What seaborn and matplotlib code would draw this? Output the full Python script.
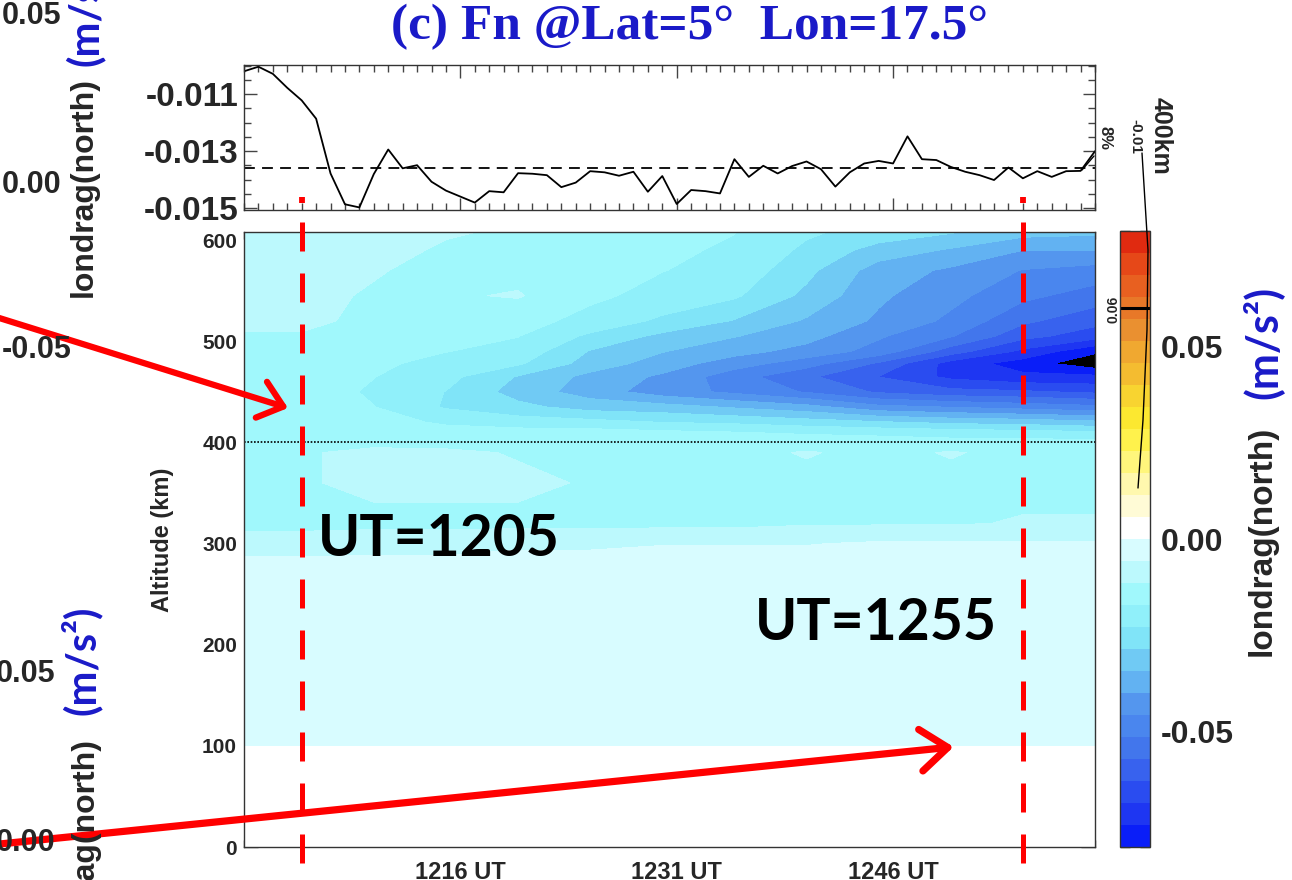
import numpy as np
import matplotlib
matplotlib.use("Agg")
import matplotlib.pyplot as plt
import matplotlib.transforms as mtransforms
from matplotlib.colors import ListedColormap, BoundaryNorm
from matplotlib.cm import ScalarMappable
from matplotlib.lines import Line2D
from matplotlib.ticker import MultipleLocator, FixedLocator, FuncFormatter
import seaborn as sns

# ---------------- 400 km time series (minutes after 1200 UT) ----------------
minutes = np.arange(1, 61)
londrag_400km = [
    -0.01020, -0.01004, -0.01029, -0.01078, -0.01122, -0.01186, -0.01378, -0.01486, -0.01497, -0.01380,
    -0.01294, -0.01360, -0.01349, -0.01407, -0.01438, -0.01459, -0.01480, -0.01440, -0.01444, -0.01377,
    -0.01379, -0.01384, -0.01426, -0.01410, -0.01370, -0.01374, -0.01386, -0.01372, -0.01442, -0.01387,
    -0.01485, -0.01436, -0.01440, -0.01448, -0.01328, -0.01390, -0.01351, -0.01378, -0.01352, -0.01336,
    -0.01363, -0.01424, -0.01374, -0.01343, -0.01334, -0.01343, -0.01248, -0.01328, -0.01331, -0.01355,
    -0.01372, -0.01384, -0.01401, -0.01357, -0.01395, -0.01370, -0.01390, -0.01370, -0.01369, -0.01300,
]
londrag_400km_mean = -0.0136

# ---------------- altitude-time field of londrag(north) ----------------
alt_km = [0, 99, 101, 280, 300, 320, 360, 390, 400, 410, 420, 435, 450,
          465, 478, 490, 505, 520, 545, 570, 590, 608]
profile_minutes = [1, 5, 10, 15, 20, 25, 30, 35, 40, 45, 50, 55, 60]
# vertical profiles, units of 1e-3 m/s^2, listed from the ground upward
ut1201 = [2, 2, -3, -4, -9, -13, -13, -12, -13, -13, -13, -13, -13, -13, -13, -13, -12, -10, -9, -9, -9, -9]
ut1205 = [2, 2, -3, -4, -9, -13, -12, -12, -13, -13, -13, -14, -14, -14, -14, -13, -12, -10, -10, -9, -9, -9]
ut1210 = [2, 2, -3, -4, -8, -13, -10, -10, -13, -14, -15, -17, -18, -17, -16, -15, -14, -13, -12, -11, -10, -10]
ut1215 = [2, 2, -3, -4, -8, -13, -10, -10, -14, -15, -18, -23.5, -23, -21, -19, -17, -16, -15, -12, -13, -12, -11]
ut1220 = [2, 2, -3, -3, -7, -13, -10, -12, -14, -15, -20, -27, -31, -29, -22, -19, -17, -15, -11, -13, -13, -12]
ut1225 = [2, 2, -3, -3, -7, -13, -12, -13, -14, -15, -21, -31, -37, -36, -31, -29, -24, -19, -16, -15, -14, -13]
ut1230 = [2, 2, -3, -3, -6, -13, -13, -13, -14, -16, -23, -32, -43, -41, -37, -34, -30, -24, -19, -17, -16, -15]
ut1235 = [2, 2, -3, -3, -6, -13, -13, -13, -14, -17, -24, -35, -47, -49, -43, -38, -34, -29, -22, -19, -18, -17]
ut1240 = [2, 2, -3, -3, -6, -12, -13, -11, -14, -18, -26, -38, -52, -56, -49, -42, -38, -35, -30, -27, -24, -22]
ut1245 = [2, 2, -3, -3, -5, -12, -13, -13, -14, -19, -28, -44, -58, -63, -58, -48, -45, -41, -39, -37, -31, -25]
ut1250 = [2, 2, -3, -3, -5, -12, -13, -11, -15, -20, -30, -46, -61, -70, -71, -60, -51, -47, -44, -41, -35, -28]
ut1255 = [2, 2, -3, -3, -5, -11, -13, -13, -15, -21, -31, -48, -62, -73, -77, -70, -61, -56, -50, -46, -40, -32]
ut1260 = [2, 2, -3, -3, -5, -11, -13, -13, -15, -22, -33, -50, -64, -73, -84, -79, -66, -61, -54, -48, -40, -33]
profiles = [ut1201, ut1205, ut1210, ut1215, ut1220, ut1225, ut1230,
            ut1235, ut1240, ut1245, ut1250, ut1255, ut1260]

x_tick_minutes = [16, 31, 46]
alt_ticks = [0, 100, 200, 300, 400, 500, 600]
cbar_labels = [-0.05, 0.0, 0.05]
top_labels = [-0.015, -0.013, -0.011]

# colour table: 28 bands from -0.08 to 0.08
neg_colors = ['#0a1ef8', '#1e36f2', '#2a4cf0', '#3862ee', '#4276ec', '#4a86ee', '#5496ee',
              '#62b2f2', '#70caf4', '#80e4f8', '#90f0fa', '#a0f8fc', '#bcf9fd', '#d8fcff']
pos_colors = ['#ffffff', '#fffbd6', '#fff8ae', '#fff67c', '#fff24c', '#fce830', '#f8d430',
              '#f4bc30', '#f0a830', '#ea9030', '#e87828', '#e86020', '#e64818', '#e02a10']

# ---------------- style ----------------
sns.set_style("ticks", {"xtick.direction": "in", "ytick.direction": "in"})
plt.rcParams['font.family'] = ['Liberation Sans', 'DejaVu Sans']
plt.rcParams['font.weight'] = 'bold'
plt.rcParams['axes.edgecolor'] = '#333333'
plt.rcParams['axes.linewidth'] = 1.0

W, H = 1292, 880
fig = plt.figure(figsize=(W / 100, H / 100), dpi=100)


def box(x0, y0, x1, y1):
    return [x0 / W, 1 - y1 / H, (x1 - x0) / W, (y1 - y0) / H]


def fx(px):
    return px / W


def fy(py):
    return 1 - py / H


ax_top = fig.add_axes(box(244, 65, 1095, 210))
ax = fig.add_axes(box(244, 232, 1095, 847))
cax = fig.add_axes(box(1120, 231, 1150, 847))

BLUE = '#1a1ac8'
RED = '#ff0000'

# ---------------- top panel: 400 km series ----------------
sns.lineplot(x=minutes, y=londrag_400km, ax=ax_top, color='black', lw=1.3)
ax_top.axhline(londrag_400km_mean, color='black', lw=1.3, ls=(0, (6, 4)))
ax_top.set_xlim(1, 60)
ax_top.set_ylim(-0.01506, -0.00998)
ax_top.yaxis.set_major_locator(FixedLocator(top_labels))
ax_top.yaxis.set_major_formatter(FuncFormatter(lambda v, p: f"{v:.3f}"))
ax_top.yaxis.set_minor_locator(MultipleLocator(0.0005))
ax_top.xaxis.set_major_locator(FixedLocator(x_tick_minutes))
ax_top.xaxis.set_minor_locator(MultipleLocator(1))
ax_top.set_xticklabels([])
ax_top.tick_params(which='both', direction='in', top=True, right=True, color='#444444')
ax_top.tick_params(which='major', length=9, width=1)
ax_top.tick_params(which='minor', length=5, width=1)
ax_top.tick_params(axis='y', labelsize=24, pad=4)
ax_top.set_xlabel('')
ax_top.set_ylabel('')

# ---------------- main panel: filled contours ----------------
cmap = ListedColormap(neg_colors + pos_colors)
cmap.set_under('black')
levels = np.linspace(-0.08, 0.08, 29)
Z = np.array(profiles, dtype=float).T * 1e-3
ax.contourf(profile_minutes, alt_km, Z, levels=levels, cmap=cmap, extend='min')
ax.axhline(400, color='black', lw=1.2, ls=(0, (1, 1)))
ax.set_xlim(1, 60)
ax.set_ylim(0, 608)
ax.xaxis.set_major_locator(FixedLocator(x_tick_minutes))
ax.xaxis.set_major_formatter(FuncFormatter(lambda v, p: f"{1200 + int(round(v))} UT"))
ax.xaxis.set_minor_locator(MultipleLocator(1))
ax.yaxis.set_major_locator(FixedLocator(alt_ticks))
ax.yaxis.set_minor_locator(MultipleLocator(10))
ax.tick_params(which='both', direction='in', top=True, right=True, color='#444444')
ax.tick_params(which='major', length=10, width=1)
ax.tick_params(which='minor', length=5, width=1)
ax.tick_params(axis='y', labelsize=15, pad=5)
ax.tick_params(axis='x', labelsize=17, pad=10)
ax.set_ylabel('Altitude (km)', fontsize=17, fontweight='bold', labelpad=20)


# ---------------- colour bar ----------------
def cbar_fmt(v, p):
    for c in cbar_labels:
        if abs(v - c) < 1e-6:
            return f"{c:.2f}"
    return ""


sm = ScalarMappable(norm=BoundaryNorm(levels, len(levels) - 1), cmap=cmap)
cb = fig.colorbar(sm, cax=cax)
cb.outline.set_linewidth(1.0)
cb.outline.set_edgecolor('#333333')
cb.set_ticks(np.round(np.arange(-0.08, 0.0801, 0.01), 2))
cb.ax.yaxis.set_major_formatter(FuncFormatter(cbar_fmt))
cax.tick_params(direction='in', left=True, right=True, length=7, width=1,
                color='#333333', labelsize=23, pad=8)
cax.axhline(0.06, color='black', lw=2.2)

# ---------------- time markers ----------------
blend = mtransforms.blended_transform_factory(ax.transData, fig.transFigure)
for m in (5, 55):
    fig.add_artist(Line2D([m, m], [fy(222), fy(884)], transform=blend, color=RED,
                          lw=3.6, ls=(0, (5.8, 4.4)), zorder=20))
    fig.add_artist(Line2D([m, m], [fy(197), fy(203)], transform=blend, color=RED,
                          lw=4.2, solid_capstyle='butt', zorder=20))

fig.text(fx(318), fy(556), 'UT=1205', family=['Lato', 'DejaVu Sans'], weight='bold',
         size=41, ha='left', va='baseline', color='black', zorder=30)
fig.text(fx(755), fy(640), 'UT=1255', family=['Lato', 'DejaVu Sans'], weight='bold',
         size=41, ha='left', va='baseline', color='black', zorder=30)

ax.annotate('', xy=(4.05, 434), xycoords='data',
            xytext=(fx(-20), fy(312)), textcoords='figure fraction',
            arrowprops=dict(arrowstyle='->,head_length=0.55,head_width=0.45', mutation_scale=30,
                            lw=4.5, color=RED, shrinkA=0, shrinkB=0),
            annotation_clip=False, zorder=40)
ax.annotate('', xy=(50.2, 99), xycoords='data',
            xytext=(fx(-20), fy(846)), textcoords='figure fraction',
            arrowprops=dict(arrowstyle='->,head_length=0.65,head_width=0.5', mutation_scale=30,
                            lw=5.2, color=RED, shrinkA=0, shrinkB=0),
            annotation_clip=False, zorder=40)

# ---------------- titles and labels ----------------
fig.text(fx(690), fy(27), '(c) Fn @Lat=5°  Lon=17.5°', family=['Liberation Serif', 'DejaVu Serif'],
         weight='bold', size=37, color=BLUE, ha='center', va='center')

fig.text(fx(1262), fy(541), 'londrag(north)', rotation=90, size=24, weight='bold',
         ha='center', va='center')
fig.text(fx(1262), fy(342), '(m/s²)', rotation=90, size=31, weight='bold', color=BLUE,
         family=['Lato', 'DejaVu Sans'], ha='center', va='center')

fig.text(fx(1161), fy(136), '400km', rotation=-90, size=18, weight='bold', ha='center', va='center')
fig.text(fx(1135), fy(136), '-0.01', rotation=-90, size=11, weight='bold', ha='center', va='center')
fig.text(fx(1105), fy(138), '8%', rotation=-90, size=12, weight='bold', ha='center', va='center')
fig.text(fx(1113), fy(309), '0.06', rotation=90, size=10, weight='bold', ha='center', va='center')
fig.add_artist(Line2D([fx(1142), fx(1148), fx(1147), fx(1143), fx(1138)],
                      [fy(153), fy(250), fy(330), fy(420), fy(488)],
                      transform=fig.transFigure, color='black', lw=1.0, zorder=25))
fig.add_artist(Line2D([fx(1082), fx(1094)], [fy(170), fy(156)],
                      transform=fig.transFigure, color='black', lw=1.0, zorder=25))

# neighbouring panel labels at the left margin
for txt, y in (('0.05', 16), ('0.00', 185), ('-0.05', 350)):
    fig.text(fx(2), fy(y), txt, size=22, weight='bold', ha='left', va='center')
for txt, y in (('0.05', 674), ('0.00', 843)):
    fig.text(fx(-4), fy(y), txt, size=22, weight='bold', ha='left', va='center')

fig.text(fx(84), fy(187), 'londrag(north)', rotation=90, size=23, weight='bold',
         ha='center', va='center')
fig.text(fx(84), fy(66), '(m/s²)', rotation=90, rotation_mode='anchor', size=30,
         weight='bold', color=BLUE, family=['Lato', 'DejaVu Sans'], ha='left', va='center')
fig.text(fx(81), fy(660), '(m/s²)', rotation=90, size=30, weight='bold', color=BLUE,
         family=['Lato', 'DejaVu Sans'], ha='center', va='center')
fig.text(fx(85), fy(737), 'londrag(north)', rotation=90, rotation_mode='anchor', size=23,
         weight='bold', ha='right', va='center')

fig.savefig('out.png', dpi=100)
